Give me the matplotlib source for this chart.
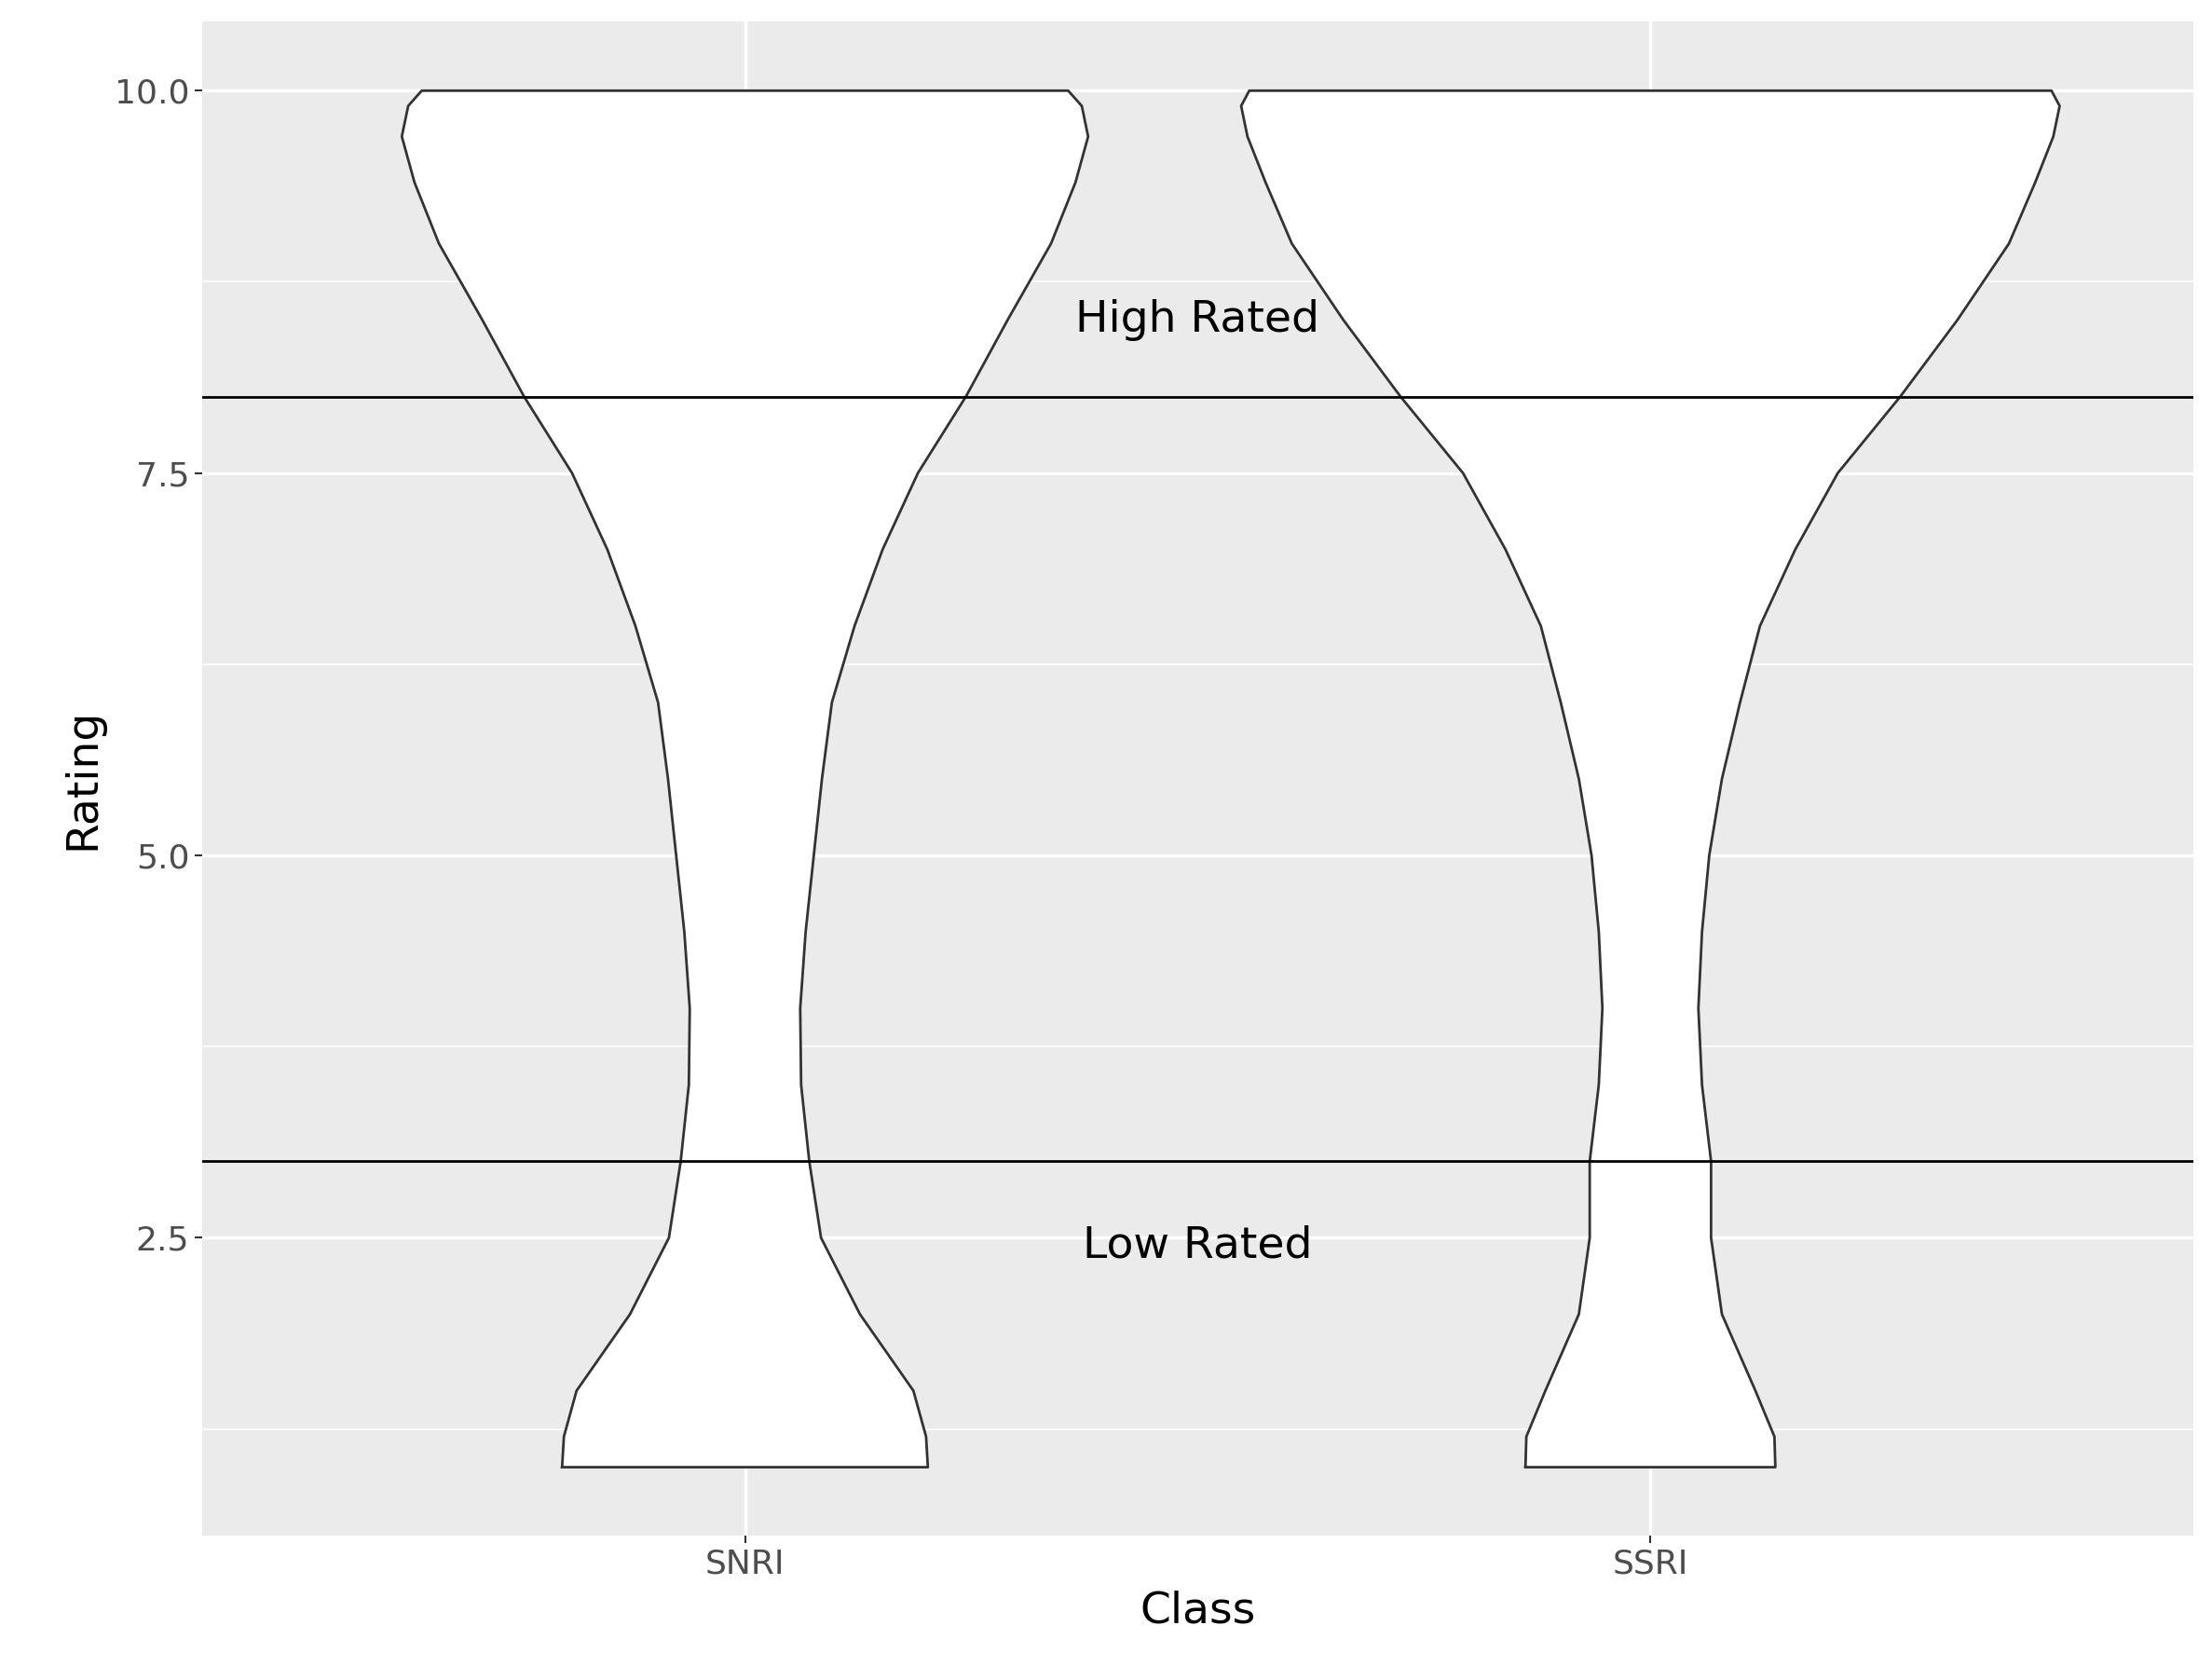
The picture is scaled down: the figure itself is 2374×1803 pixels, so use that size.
import numpy as np
import matplotlib.pyplot as plt

classes = ['SNRI', 'SSRI']
rating_levels = [1.0, 1.2, 1.5, 2.0, 2.5, 3.0, 3.5, 4.0, 4.5, 5.0, 5.5, 6.0, 6.5, 7.0, 7.5, 8.0, 8.5, 9.0, 9.4, 9.7, 9.9, 10.0]
# half widths of violins (in category units)
snri_width = [0.202, 0.200, 0.186, 0.127, 0.084, 0.071, 0.062, 0.061, 0.067, 0.076, 0.085, 0.096, 0.121, 0.152, 0.191, 0.244, 0.290, 0.338, 0.365, 0.379, 0.372, 0.357]
ssri_width = [0.138, 0.137, 0.116, 0.079, 0.067, 0.067, 0.057, 0.053, 0.057, 0.065, 0.079, 0.099, 0.121, 0.160, 0.207, 0.276, 0.339, 0.396, 0.425, 0.445, 0.452, 0.443]

fig = plt.figure(figsize=(23.74, 18.03), dpi=100)
ax = fig.add_axes([0.0912, 0.0857, 0.9005, 0.9013])
ax.set_facecolor('#EBEBEB')

y = np.array(rating_levels)
for i, w in enumerate([snri_width, ssri_width]):
    c = i + 1
    w = np.array(w)
    ax.fill_betweenx(y, c - w, c + w, facecolor='white', edgecolor='none', zorder=2)
    xs = np.concatenate([c - w, (c + w)[::-1], [c - w[0]]])
    ys = np.concatenate([y, y[::-1], [y[0]]])
    ax.plot(xs, ys, color='#333333', lw=2, zorder=3)

ax.axhline(8, color='black', lw=2, zorder=4)
ax.axhline(3, color='black', lw=2, zorder=4)
ax.text(1.5, 8.5, 'High Rated', ha='center', va='center', fontsize=34, zorder=5)
ax.text(1.5, 2.45, 'Low Rated', ha='center', va='center', fontsize=34, zorder=5)

ax.set_xlim(0.4, 2.6)
ax.set_ylim(0.55, 10.45)
ax.set_xticks([1, 2])
ax.set_xticklabels(classes)
ax.set_yticks([2.5, 5.0, 7.5, 10.0])
ax.set_yticklabels(['2.5', '5.0', '7.5', '10.0'])
ax.set_yticks([1.25, 3.75, 6.25, 8.75], minor=True)
ax.grid(which='major', color='white', lw=2.5, zorder=0)
ax.grid(which='minor', axis='y', color='white', lw=1.2, zorder=0)
ax.set_axisbelow(True)
for s in ax.spines.values():
    s.set_visible(False)
ax.tick_params(which='major', length=6, width=1.5, color='#333333', labelsize=26, labelcolor='#4D4D4D')
ax.tick_params(which='minor', length=0)
ax.set_xlabel('Class', fontsize=34, labelpad=8)
ax.set_ylabel('Rating', fontsize=34, labelpad=8)

fig.savefig('out.png', dpi=100)
